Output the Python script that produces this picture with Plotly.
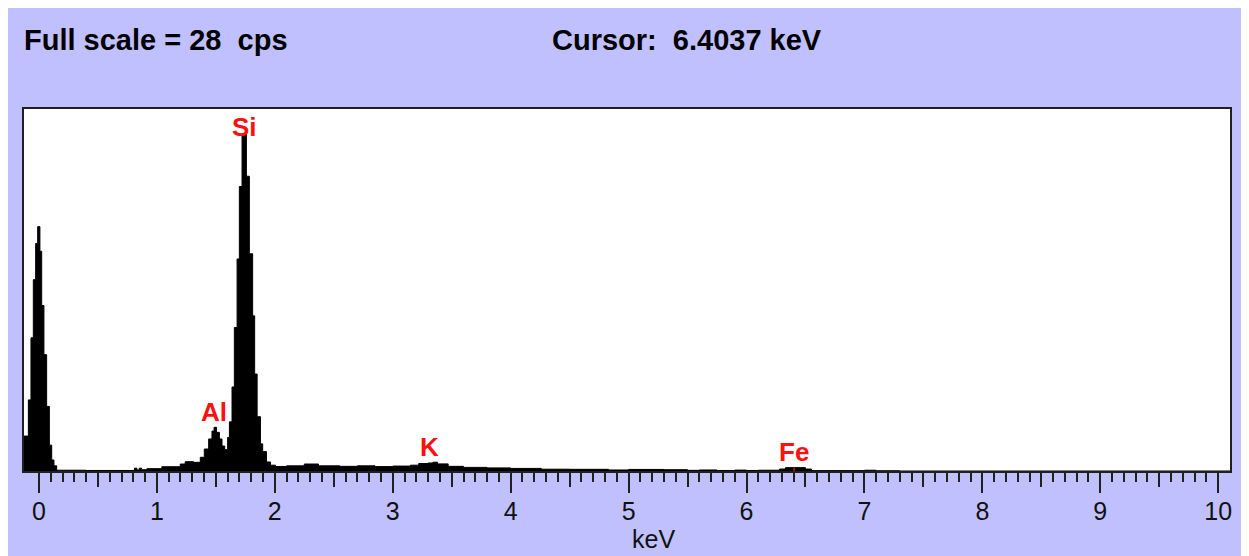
import plotly.graph_objects as go

# ---- data (EDS spectrum, step edges) ----
energy_kev = [-0.127, -0.09, -0.068, -0.048, -0.028, -0.011, 0.008, 0.023, 0.042, 0.065,
              0.088, 0.108, 0.127, 0.15, 0.40, 0.81, 0.83, 0.85, 0.87, 0.915,
              1.042, 1.198, 1.24, 1.311, 1.368, 1.402, 1.439, 1.467, 1.485, 1.505,
              1.53, 1.552, 1.575, 1.60, 1.615, 1.637, 1.657, 1.68, 1.699, 1.722,
              1.759, 1.784, 1.812, 1.829, 1.85, 1.878, 1.897, 1.929, 1.963, 2.005,
              2.10, 2.25, 2.37, 2.55, 2.70, 2.85, 3.00, 3.15, 3.22, 3.30,
              3.34, 3.38, 3.47, 3.60, 3.80, 4.00, 4.26, 4.50, 4.83, 5.00,
              5.30, 5.50, 5.60, 5.75, 5.90, 6.00, 6.10, 6.28, 6.33, 6.50,
              6.55, 7.00, 7.10, 7.30, 10.10]
counts_cps = [2.7, 5.5, 10.3, 14.8, 17.6, 18.9, 17.0, 12.8, 9.0, 5.0,
              2.0, 0.85, 0.4, 0.06, 0.04, 0.22, 0.08, 0.22, 0.1, 0.18,
              0.33, 0.54, 0.72, 0.67, 1.06, 1.70, 2.48, 3.09, 3.38, 2.99,
              2.48, 1.93, 1.65, 2.6, 3.8, 6.5, 11.1, 16.4, 22.0, 26.1,
              22.8, 16.8, 12.0, 7.5, 4.2, 2.1, 1.5, 0.7, 0.45, 0.35,
              0.40, 0.54, 0.40, 0.36, 0.40, 0.34, 0.38, 0.45, 0.58, 0.62,
              0.68, 0.55, 0.36, 0.28, 0.24, 0.20, 0.14, 0.13, 0.08, 0.12,
              0.10, 0.05, 0.08, 0.04, 0.07, 0.04, 0.06, 0.15, 0.26, 0.15,
              0.03, 0.06, 0.02, 0.0, 0.0]

element_names = ["Al", "Si", "K", "Fe"]
element_kev = [1.486, 1.740, 3.313, 6.403]
label_cps = [4.56, 26.6, 1.86, 1.47]

full_scale_cps = 28
cursor_kev = 6.4037
cursor_cps = 0.26
x_range = [-0.127, 10.10]
major_ticks = list(range(0, 11))
tick_labels = [str(v) for v in major_ticks]
medium_ticks = [v + 0.5 for v in range(0, 10)]
minor_ticks = [round(i * 0.1, 1) for i in range(0, 101)]

LAV = "#C0C0FF"
AXC = "#202020"
OFF = 8  # page body margin
W, H = 1249 - OFF, 556 - OFF
L, R, T, B = 24 - OFF, 19, 109 - OFF, 85
PW, PH = W - L - R, H - T - B


def px(xp):  # page pixel -> paper x
    return (xp - OFF - L) / PW


def py(yp):  # page pixel -> paper y
    return (H - B - (yp - OFF)) / PH


fig = go.Figure()
fig.add_trace(go.Scatter(
    x=energy_kev, y=counts_cps, mode="lines", line_shape="hv",
    line=dict(color="black", width=1), fill="tozeroy", fillcolor="black",
    hoverinfo="skip", showlegend=False))
fig.add_trace(go.Scatter(
    x=[cursor_kev, cursor_kev], y=[0, cursor_cps], mode="lines",
    line=dict(color="#FF0000", width=1.5), xaxis="x2",
    hoverinfo="skip", showlegend=False))

for name, ek, yc in zip(element_names, element_kev, label_cps):
    fig.add_annotation(x=ek, y=yc, xref="x", yref="y", text=name, showarrow=False,
                       font=dict(family="Liberation Sans, Arial", size=26, color="#FF1010", weight="bold"),
                       xanchor="center", yanchor="middle")

hdr_font = dict(family="Liberation Sans, Arial", size=29, color="black", weight="bold")
fig.add_annotation(x=px(22), y=py(39.5), xref="paper", yref="paper",
                   text=f"Full scale = {full_scale_cps}\u00a0\u00a0cps", showarrow=False,
                   font=hdr_font, xanchor="left", yanchor="middle")
fig.add_annotation(x=px(550), y=py(39.5), xref="paper", yref="paper",
                   text=f"Cursor:\u00a0\u00a0{cursor_kev:.4f} keV", showarrow=False,
                   font=hdr_font, xanchor="left", yanchor="middle")
fig.add_annotation(x=px(653), y=py(539), xref="paper", yref="paper",
                   text="keV", showarrow=False,
                   font=dict(family="Liberation Sans, Arial", size=25, color="#111111"),
                   xanchor="center", yanchor="middle")

fig.update_layout(
    width=W, height=H, margin=dict(l=L, r=R, t=T, b=B),
    paper_bgcolor=LAV, plot_bgcolor="white",
    xaxis=dict(range=x_range, tickmode="array", tickvals=major_ticks, ticktext=tick_labels,
               ticks="outside", ticklen=20, tickwidth=2, tickcolor=AXC,
               ticklabelstandoff=-3,
               tickfont=dict(family="Liberation Sans, Arial", size=25, color="#111111"),
               showline=True, linecolor=AXC, linewidth=2, mirror=True,
               showgrid=False, zeroline=False,
               minor=dict(tickmode="array", tickvals=minor_ticks, ticks="outside",
                          ticklen=9, tickwidth=2, tickcolor=AXC, showgrid=False)),
    xaxis2=dict(range=x_range, overlaying="x", anchor="y", side="bottom",
                tickmode="array", tickvals=medium_ticks, ticks="outside", ticklen=15,
                tickwidth=2, tickcolor=AXC, showticklabels=False, showline=False,
                showgrid=False, zeroline=False),
    yaxis=dict(range=[0, full_scale_cps], showticklabels=False, ticks="",
               showline=True, linecolor=AXC, linewidth=2, mirror=True,
               showgrid=False, zeroline=False),
)

fig.write_html("out.html")
